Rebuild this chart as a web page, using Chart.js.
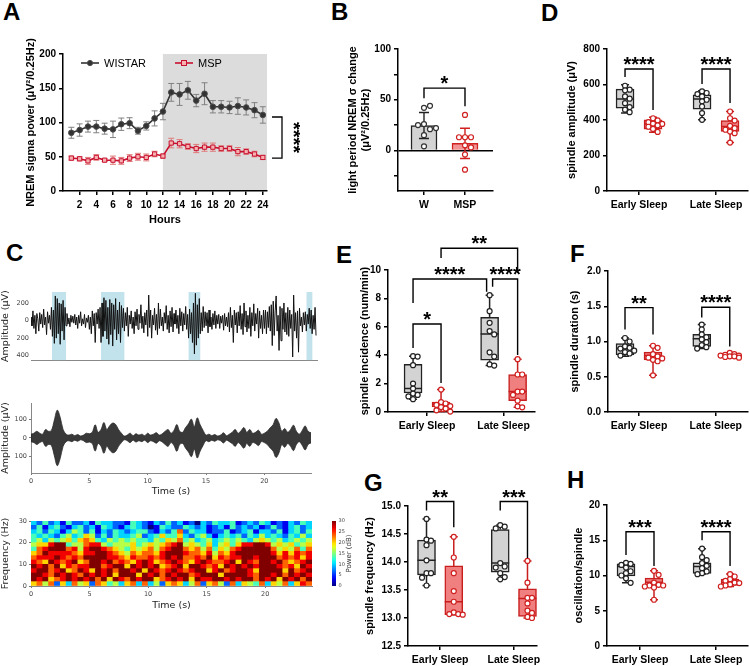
<!DOCTYPE html>
<html>
<head>
<meta charset="utf-8">
<script src="https://cdn.jsdelivr.net/npm/chart.js@4.4.0/dist/chart.umd.min.js"></script>
<style>
  body { margin: 0; background: #fff; }
  #fig { position: relative; width: 750px; height: 666px; overflow: hidden; background: #fff; }
  #fig canvas { position: absolute; }
  .lbl { position: absolute; font: bold 24px "Liberation Sans", Arial, sans-serif; line-height: 1; color: #000; }
</style>
</head>
<body>
<div id="fig">
  <div class="lbl" style="left:3px;top:0px">A</div>
  <div class="lbl" style="left:331px;top:0px">B</div>
  <div class="lbl" style="left:541px;top:1px">D</div>
  <div class="lbl" style="left:6px;top:241px">C</div>
  <div class="lbl" style="left:336px;top:243px">E</div>
  <div class="lbl" style="left:570px;top:242px">F</div>
  <div class="lbl" style="left:364px;top:471px">G</div>
  <div class="lbl" style="left:567px;top:468px">H</div>
</div>
<script>
// ---- A: hourly NREM sigma power ----
var hours = [1, 2, 3, 4, 5, 6, 7, 8, 9, 10, 11, 12, 13, 14, 15, 16, 17, 18, 19, 20, 21, 22, 23, 24];
var wistarMean = [85, 89, 94, 94, 91, 90, 97.5, 99, 88, 95, 106, 116, 144, 141, 147, 132, 142, 123, 123, 122, 124, 122, 118, 111];
var wistarSem = [8, 9, 8, 9, 8, 12, 9, 8, 5, 6, 11, 12, 13, 16, 13, 9, 16, 9, 9, 9, 12, 11, 11, 12];
var mspMean = [48, 47, 44, 49, 45, 45, 44, 48, 50, 49, 54, 51, 70, 69, 65, 62, 64, 64, 62, 62, 57.5, 57.5, 54, 49];
var mspSem = [3, 3, 5, 4, 2, 6, 5, 5, 5, 5, 4, 3, 7, 6, 4, 6, 6, 6, 4, 4, 6, 4, 4, 3];
var darkStart = 12;
var aBracket = [108, 48];

// ---- B: light period sigma change ----
var bGroups = ['W', 'MSP'];
var bMean = [24.6, 7.0];
var bSd = [12.8, 14.9];
var bPtsW = [42, 44, 26, 21, 25, 22, 15, 4];
var bPtsM = [35, 13, 13, 13, 5, 3, -4, -19];

// ---- C: example EEG (12 samples/s), spindle envelope (0.25 s), spectrogram ----
var rawFs = 12;
var rawTrace = [
  40, -60, 110, -90, 60, -150, 80, 20, -120, 90, -40, 70,
  -80, 130, -50, 40, -160, 100, -30, 60, -100, 150, -180, 120,
  -260, 280, -200, 250, -150, 200, -270, 190, -120, 230, -220, 150,
  -60, 80, -40, 30, -70, 60, -20, 50, -30, 70, -50, 40,
  -90, 60, -30, 100, -60, 20, -40, 70, -80, 30, -20, 60,
  -100, 40, -150, 110, -60, 80, -250, 90, -40, 130, -90, 150,
  -250, 200, -180, 260, -120, 230, -210, 150, -270, 240, -160, 200,
  -290, 180, -100, 250, -220, 120, -150, 210, -250, 170, -80, 140,
  -120, 90, -60, 150, -180, 60, -40, 110, -90, 40, -150, 100,
  -60, 130, -100, 70, -30, 180, -90, 50, -140, 90, -50, 120,
  -180, 290, -80, 120, -200, 60, -50, 140, -110, 70, -160, 200,
  -90, 130, -60, 40, -120, 90, -30, 170, -100, 60, -140, 110,
  -70, 150, -130, 80, -40, 120, -90, 60, -150, 140, -60, 100,
  -120, 80, -50, 160, -100, 70, -200, 130, -150, 90, -250, 200,
  -380, 310, -280, 180, -200, 250, -150, 90, -120, 160, -80, 100,
  -60, 90, -140, 120, -70, 40, -100, 80, -50, 110, -90, 60,
  -40, 70, -90, 50, -30, 60, -110, 80, -60, 40, -70, 90,
  -130, 150, -80, 60, -250, 120, -50, 90, -140, 100, -60, 170,
  -100, 80, -160, 200, -70, 110, -130, 60, -90, 150, -180, 90,
  -60, 190, -120, 80, -40, 140, -200, 110, -90, 60, -150, 120,
  -90, 120, -150, 100, -80, 160, -120, 180, -285, 220, -170, 110,
  280, -120, 60, -340, 160, -230, 140, -100, 200, -130, 90, -160,
  150, -180, 120, -90, 70, -415, 290, -120, 90, -200, 110, -360,
  140, -60, 40, -130, 90, -50, 100, -120, 70, -40, 140, -90,
  120, -150, 60, -100, 150, -170
];
var spindleBands = [[1.8, 3.0], [6.0, 8.0], [13.5, 14.5], [23.6, 24.1]];
var envStep = 0.25;
var spindleEnv = [
  20, 25, 35, 25, 20, 45, 35, 40, 95, 148, 110, 45,
  20, 15, 20, 12, 18, 10, 15, 25, 22, 30, 70, 30,
  45, 82, 45, 65, 79, 72, 45, 25, 10, 15, 25, 12,
  22, 15, 20, 12, 25, 15, 20, 28, 15, 22, 35, 45,
  25, 40, 71, 35, 30, 55, 75, 100, 60, 107, 70, 40,
  15, 20, 12, 18, 10, 15, 27, 12, 20, 30, 45, 25,
  38, 55, 30, 45, 25, 30, 41, 20, 25, 35, 54, 70,
  104, 80, 35, 50, 30, 45, 68, 35, 20, 40, 64, 35, 27
];
var specStep = 0.5;
var specBinHz = 2;
// power level 0-9 (0 = 0 dB, 9 = 30 dB), rows from 30 Hz down to 0 Hz
var specRows = [
  '32423142 23143322 14321324 23120324 33412324 31213243',
  '24134213 42314321 34320143 22432312 31423231 24213423',
  '34243135 42413243 23442132 47243312 24123413 32413424',
  '43432453 46524243 34523464 46324531 34342435 34324353',
  '45354564 67643545 45443546 57453453 45454356 54534545',
  '56689945 57885455 56456567 89565463 56468899 85656456',
  '47899978 58998765 46567578 99767574 65789999 97565747',
  '67988887 68899876 57677689 99877685 76899999 98686878',
  '78889878 79999887 68778789 89778796 87889989 99787868',
  '87698789 67998978 76898678 98768987 78969879 98976789',
  '98979687 88997899 69898967 89699878 69898989 99878698',
  '89978967 98698979 98969878 98789968 97899869 99969789',
  '99879898 79898969 99698979 89978999 69999879 98979898',
  '98967898 98979698 79899678 98969889 98989979 89698979',
  '67572637 56276453 67373526 76357267 52736547 36573687'
];
var cbTicks = [0, 5, 10, 15, 20, 25, 30];

// ---- D-H: spindle properties, box = [min, q1, median, q3, max] ----
var sleepLabels = ['Early Sleep', 'Late Sleep'];

var dBoxW = [[439, 467, 518, 574, 599], [401, 461, 518, 542, 565]];
var dBoxM = [[331, 348, 378, 401, 416], [273, 335, 363, 397, 448]];
var dPtsW = [[593, 571, 567, 533, 520, 495, 473, 458, 444], [561, 552, 546, 533, 514, 505, 476, 439, 401]];
var dPtsM = [[410, 398, 388, 380, 378, 370, 362, 350, 333], [448, 410, 397, 367, 354, 345, 335, 326, 273]];

var eBoxW = [[0.9, 1.34, 1.65, 3.36, 3.93], [3.27, 3.65, 5.5, 6.66, 8.23]];
var eBoxM = [[0.03, 0.35, 0.55, 0.7, 1.58], [0.33, 0.8, 1.44, 2.64, 3.72]];
var ePtsW = [[3.93, 3.9, 3.3, 2.0, 1.65, 1.3, 1.2, 1.1, 0.9], [8.23, 7.1, 6.28, 5.7, 5.46, 4.2, 3.9, 3.35, 3.27]];
var ePtsM = [[1.58, 0.7, 0.6, 0.5, 0.42, 0.35, 0.24, 0.12, 0.03], [3.72, 2.64, 2.64, 1.44, 1.44, 1.2, 0.8, 0.4, 0.33]];

var fBoxW = [[0.79, 0.81, 0.9, 0.97, 1.05], [0.9, 0.93, 1.04, 1.1, 1.24]];
var fBoxM = [[0.52, 0.74, 0.8, 0.85, 0.94], [0.77, 0.78, 0.8, 0.82, 0.84]];
var fPtsW = [[1.05, 1.0, 0.93, 0.91, 0.9, 0.87, 0.85, 0.83, 0.8], [1.24, 1.17, 1.1, 1.06, 1.03, 0.99, 0.95, 0.92, 0.9]];
var fPtsM = [[0.94, 0.91, 0.82, 0.79, 0.77, 0.76, 0.74, 0.72, 0.52], [0.84, 0.82, 0.81, 0.8, 0.8, 0.79, 0.79, 0.78, 0.77]];

var gBoxW = [[13.58, 13.77, 14.03, 14.39, 14.77], [13.69, 13.82, 13.98, 14.58, 14.66]];
var gBoxM = [[13.06, 13.06, 13.29, 13.93, 14.45], [13.0, 13.03, 13.35, 13.52, 14.02]];
var gPtsW = [[14.77, 14.4, 14.38, 14.3, 14.03, 13.8, 13.8, 13.72, 13.58], [14.66, 14.63, 14.6, 13.98, 13.92, 13.9, 13.8, 13.73, 13.69]];
var gPtsM = [[14.45, 14.08, 13.8, 13.48, 13.29, 13.1, 13.07, 13.07, 13.06], [14.02, 13.63, 13.36, 13.36, 13.26, 13.13, 13.09, 13.02, 13.0]];

var hBoxW = [[8.96, 9.95, 11.27, 11.65, 11.8], [10.2, 10.3, 11.27, 11.8, 13.8]];
var hBoxM = [[6.56, 8.44, 9.06, 9.62, 10.66], [8.44, 8.6, 9.0, 9.48, 10.2]];
var hPtsW = [[11.8, 11.65, 11.5, 11.13, 10.6, 10.33, 10.0, 9.6, 8.96], [13.82, 12.6, 12.17, 11.75, 11.37, 11.04, 10.57, 10.33, 10.19]];
var hPtsM = [[10.66, 10.1, 9.0, 8.68, 8.58, 8.58, 8.44, 8.3, 6.56], [10.19, 9.86, 9.48, 9.25, 9.0, 8.92, 8.73, 8.58, 8.44]];

// significance brackets: [from slot, to slot, top, left leg end, right leg end, text, nudge from px, nudge to px]
var bBrackets = [[0, 1, 61.4, 51.5, 43.6, '*']];
var dBrackets = [[0, 1, 687, 642, 456, '****'], [2, 3, 687, 603, 496, '****']];
var eBrackets = [[1, 3, 11.53, 10.85, 9.79, '**'], [0, 2, 9.37, 7.68, 8.47, '****', 0, -3], [2, 3, 9.37, 8.82, 4.01, '****', 3, 0], [0, 1, 6.2, 4.5, 2.04, '*']];
var fBrackets = [[0, 1, 1.48, 1.17, 1.1, '**'], [2, 3, 1.485, 1.34, 0.93, '****']];
var gBrackets = [[0, 1, 15.08, 14.92, 14.62, '**'], [2, 3, 15.08, 14.92, 14.07, '***']];
var hBrackets = [[0, 1, 16.2, 12.9, 11.36, '***'], [2, 3, 16.2, 15.0, 11.36, '****']];

// ---------------------------------------------------------------
var F = '"Liberation Sans", Arial, sans-serif';
var FC = '"DejaVu Sans", sans-serif';
Chart.defaults.font.family = F;

function addCanvas(plot, m) {
  var cl = Math.round(plot[0] - m[0]), ct = Math.round(plot[1] - m[1]);
  var cr = Math.round(plot[2] + m[2]), cb = Math.round(plot[3] + m[3]);
  var c = document.createElement('canvas');
  c.width = cr - cl; c.height = cb - ct;
  c.style.left = cl + 'px'; c.style.top = ct + 'px';
  document.getElementById('fig').appendChild(c);
  return {el: c, ml: plot[0] - cl, mt: plot[1] - ct, mr: cr - plot[2], mb: cb - plot[3]};
}

function baseOpts(k) {
  return {
    responsive: false, animation: false, devicePixelRatio: 1, events: [],
    layout: {autoPadding: false, padding: {left: 0, top: k.mt, right: k.mr, bottom: 0}},
    plugins: {legend: {display: false}, tooltip: {enabled: false}}
  };
}

function tickList(vals) {
  return function (s) { s.ticks = vals.map(function (v) { return {value: v}; }); };
}

function prismY(k, range, ticks, title, fmt) {
  return {
    type: 'linear', min: range[0], max: range[1],
    afterFit: function (s) { s.width = k.ml; },
    afterBuildTicks: tickList(ticks),
    ticks: {font: {size: 10, weight: 'bold'}, color: '#000', padding: 3,
      callback: fmt || function (v) { return String(v); }},
    grid: {drawOnChartArea: false, color: '#000', lineWidth: 1.5, tickLength: 4},
    border: {color: '#000', width: 1.5},
    title: {display: true, text: title, color: '#000', padding: 0,
      font: {size: 11, weight: 'bold', lineHeight: 1.2}}
  };
}

function prismX(k, range, ticks, fmt, size) {
  return {
    type: 'linear', min: range[0], max: range[1], offset: false,
    afterFit: function (s) { s.height = k.mb; },
    afterBuildTicks: tickList(ticks),
    ticks: {font: {size: size || 10.5, weight: 'bold'}, color: '#000', padding: 4,
      maxRotation: 0, autoSkip: false, callback: fmt},
    grid: {drawOnChartArea: false, color: '#000', lineWidth: 1.5, tickLength: 4, offset: false},
    border: {color: '#000', width: 1.5}
  };
}

function starText(ctx, text, x, y, rot) {
  ctx.save();
  ctx.font = 'bold 20px ' + F;
  ctx.fillStyle = '#000';
  ctx.textAlign = 'center';
  ctx.textBaseline = 'alphabetic';
  ctx.translate(x, y);
  if (rot) ctx.rotate(rot);
  ctx.fillText(text, 0, 0);
  ctx.restore();
}

function bracketPlugin(list, slotX) {
  return {
    id: 'brackets',
    afterDatasetsDraw: function (chart) {
      var xs = chart.scales.x, ys = chart.scales.y, ctx = chart.ctx;
      ctx.save();
      ctx.strokeStyle = '#000'; ctx.lineWidth = 1.4; ctx.lineJoin = 'miter';
      list.forEach(function (b) {
        var x1 = xs.getPixelForValue(slotX[b[0]]) + (b[6] || 0);
        var x2 = xs.getPixelForValue(slotX[b[1]]) + (b[7] || 0);
        var top = ys.getPixelForValue(b[2]);
        ctx.beginPath();
        ctx.moveTo(x1, ys.getPixelForValue(b[3]));
        ctx.lineTo(x1, top); ctx.lineTo(x2, top);
        ctx.lineTo(x2, ys.getPixelForValue(b[4]));
        ctx.stroke();
        starText(ctx, b[5], (x1 + x2) / 2, top + 2);
      });
      ctx.restore();
    }
  };
}

var whiskers = {
  id: 'whiskers',
  afterDatasetDraw: function (chart, args) {
    var ds = chart.data.datasets[args.index];
    if (!ds.stats) return;
    var xs = chart.scales.x, ys = chart.scales.y, ctx = chart.ctx;
    ctx.save();
    ctx.strokeStyle = ds.borderColor; ctx.lineWidth = 1.5;
    ds.stats.forEach(function (s, i) {
      var x = xs.getPixelForValue(ds.data[i].x);
      var yy = s.map(function (v) { return ys.getPixelForValue(v); });
      ctx.beginPath();
      ctx.moveTo(x, yy[3]); ctx.lineTo(x, yy[4]);
      ctx.moveTo(x - 4, yy[4]); ctx.lineTo(x + 4, yy[4]);
      ctx.moveTo(x, yy[1]); ctx.lineTo(x, yy[0]);
      ctx.moveTo(x - 4, yy[0]); ctx.lineTo(x + 4, yy[0]);
      ctx.moveTo(x - 9, yy[2]); ctx.lineTo(x + 9, yy[2]);
      ctx.stroke();
    });
    ctx.restore();
  }
};

// spread overlapping dots sideways (pixel offsets), d = minimum centre distance
function swarm(vals, ppy, d, maxStep) {
  var placed = [];
  return vals.map(function (v) {
    var yp = v * ppy, best = 0, bestGap = -1;
    for (var k = 0; k <= maxStep * 2; k++) {
      var dx = (k % 2 ? 1 : -1) * Math.ceil(k / 2) * d;
      var gap = placed.reduce(function (m, p) { return Math.min(m, Math.hypot(p[0] - dx, p[1] - yp)); }, 1e9);
      if (gap >= d) { best = dx; bestGap = gap; break; }
      if (gap > bestGap) { best = dx; bestGap = gap; }
    }
    placed.push([best, yp]);
    return best;
  });
}

function dots(data, line) {
  return {type: 'scatter', order: 0, data: data, pointRadius: 2.5, pointBorderWidth: 1.2,
    pointBackgroundColor: '#fff', pointBorderColor: line, clip: false};
}

// ---------------- A ----------------
(function () {
  var k = addCanvas([63, 54, 267, 191], [39, 24, 33, 36]);
  var opts = baseOpts(k);
  opts.scales = {
    x: prismX(k, [0, 24.5], [2, 4, 6, 8, 10, 12, 14, 16, 18, 20, 22, 24], function (v) { return String(v); }, 10),
    y: prismY(k, [0, 200], [0, 50, 100, 150, 200], 'NREM sigma power (μV²/0.25Hz)')
  };
  opts.scales.x.title = {display: true, text: 'Hours', color: '#000', padding: 0, font: {size: 11, weight: 'bold', lineHeight: 1.2}};
  var extras = {
    id: 'aExtras',
    beforeDraw: function (chart) {
      var a = chart.chartArea, ctx = chart.ctx;
      var x0 = chart.scales.x.getPixelForValue(darkStart);
      ctx.save(); ctx.fillStyle = '#dcdcdc';
      ctx.fillRect(x0, a.top, a.right - x0, a.bottom - a.top);
      ctx.restore();
    },
    beforeDatasetsDraw: function (chart) {
      var xs = chart.scales.x, ys = chart.scales.y, ctx = chart.ctx;
      ctx.save(); ctx.lineWidth = 1;
      chart.data.datasets.forEach(function (ds) {
        ctx.strokeStyle = ds.errColor;
        ds.data.forEach(function (p, i) {
          var px = xs.getPixelForValue(p.x);
          var hi = ys.getPixelForValue(p.y + ds.err[i]), lo = ys.getPixelForValue(p.y - ds.err[i]);
          ctx.beginPath();
          ctx.moveTo(px, hi); ctx.lineTo(px, lo);
          ctx.moveTo(px - 3, hi); ctx.lineTo(px + 3, hi);
          ctx.moveTo(px - 3, lo); ctx.lineTo(px + 3, lo);
          ctx.stroke();
        });
      });
      ctx.restore();
    },
    afterDraw: function (chart) {
      var a = chart.chartArea, ys = chart.scales.y, ctx = chart.ctx;
      var dsets = chart.data.datasets;
      ctx.save();
      var ly = a.top + 9;
      [[18, dsets[0]], [112, dsets[1]]].forEach(function (e) {
        var x = a.left + e[0], ds = e[1];
        ctx.strokeStyle = ds.borderColor; ctx.lineWidth = 1.6;
        ctx.beginPath(); ctx.moveTo(x, ly); ctx.lineTo(x + 18, ly); ctx.stroke();
        ctx.fillStyle = ds.pointBackgroundColor; ctx.strokeStyle = ds.pointBorderColor; ctx.lineWidth = 1;
        if (ds.pointStyle === 'rect') {
          ctx.fillRect(x + 6.5, ly - 2.5, 5, 5); ctx.strokeRect(x + 6.5, ly - 2.5, 5, 5);
        } else {
          ctx.beginPath(); ctx.arc(x + 9, ly, 2.6, 0, Math.PI * 2); ctx.fill(); ctx.stroke();
        }
        ctx.fillStyle = '#000'; ctx.font = '11px ' + F; ctx.textBaseline = 'middle';
        ctx.fillText(ds.label, x + 23, ly + 0.5);
      });
      var y1 = ys.getPixelForValue(aBracket[0]), y2 = ys.getPixelForValue(aBracket[1]);
      var bx = a.right + 15;
      ctx.strokeStyle = '#000'; ctx.lineWidth = 1.3;
      ctx.beginPath();
      ctx.moveTo(a.right + 5, y1); ctx.lineTo(bx, y1); ctx.lineTo(bx, y2); ctx.lineTo(a.right + 5, y2);
      ctx.stroke();
      ctx.restore();
      starText(ctx, '****', a.right + 20, (y1 + y2) / 2, Math.PI / 2);
    }
  };
  new Chart(k.el, {
    type: 'line',
    data: {datasets: [
      {label: 'WISTAR', data: hours.map(function (h, i) { return {x: h, y: wistarMean[i]}; }),
        err: wistarSem, errColor: '#808080', borderColor: '#333', borderWidth: 1.6,
        pointRadius: 2.8, pointBackgroundColor: '#333', pointBorderColor: '#4a4a4a', pointBorderWidth: 1},
      {label: 'MSP', data: hours.map(function (h, i) { return {x: h, y: mspMean[i]}; }),
        err: mspSem, errColor: '#e07878', borderColor: '#c8102e', borderWidth: 1.6, pointStyle: 'rect',
        pointRadius: 3, pointBackgroundColor: '#f6b0b0', pointBorderColor: '#c8102e', pointBorderWidth: 1}
    ]},
    options: opts,
    plugins: [extras]
  });
})();

// ---------------- B ----------------
(function () {
  var plot = [398, 49, 493, 191], xr = [0.366, 2.683], yr = [-40, 100];
  var k = addCanvas(plot, [52, 24, 7, 24]);
  var ppy = (plot[3] - plot[1]) / (yr[1] - yr[0]);
  var ppx = (plot[2] - plot[0]) / (xr[1] - xr[0]);
  var slotX = [1, 2];
  function pts(vals, x) {
    var dx = swarm(vals, ppy, 6, 2);
    return vals.map(function (v, j) { return {x: x + dx[j] / ppx, y: v}; });
  }
  var opts = baseOpts(k);
  opts.scales = {
    x: prismX(k, xr, [1, 2], function (v) { return bGroups[v - 1]; }),
    y: prismY(k, yr, [-25, 0, 25, 50, 75, 100], ['light period NREM σ change', '(μV²/0.25Hz)'],
      function (v) { return v % 50 === 0 && v >= 0 ? String(v) : ''; })
  };
  opts.scales.y.grid = {drawOnChartArea: true, lineWidth: 1.5, tickLength: 4, tickColor: '#000',
    color: function (c) { return c.tick && c.tick.value === 0 ? '#000' : 'rgba(0,0,0,0)'; }};
  var errBars = {
    id: 'errBars',
    afterDatasetDraw: function (chart, args) {
      var ds = chart.data.datasets[args.index];
      if (!ds.sd) return;
      var xs = chart.scales.x, ys = chart.scales.y, ctx = chart.ctx;
      ctx.save(); ctx.lineWidth = 1.4;
      ds.data.forEach(function (p, i) {
        var x = xs.getPixelForValue(p.x);
        var hi = ys.getPixelForValue(p.y + ds.sd[i]), lo = ys.getPixelForValue(p.y - ds.sd[i]);
        ctx.strokeStyle = ds.borderColor[i];
        ctx.beginPath();
        ctx.moveTo(x, hi); ctx.lineTo(x, lo);
        ctx.moveTo(x - 5, hi); ctx.lineTo(x + 5, hi);
        ctx.moveTo(x - 5, lo); ctx.lineTo(x + 5, lo);
        ctx.stroke();
      });
      ctx.restore();
    }
  };
  new Chart(k.el, {
    type: 'bar',
    data: {datasets: [
      dots(pts(bPtsW, 1), '#333'),
      dots(pts(bPtsM, 2), '#d02020'),
      {type: 'bar', order: 2, data: [{x: 1, y: bMean[0]}, {x: 2, y: bMean[1]}], sd: bSd,
        backgroundColor: ['#d3d3d3', '#f39494'], borderColor: ['#222', '#d02020'], borderWidth: 1.5,
        barThickness: 26, grouped: false}
    ]},
    options: opts,
    plugins: [errBars, bracketPlugin(bBrackets, slotX)]
  });
})();

// ---------------- D-H box panels ----------------
function boxPanel(p) {
  var k = addCanvas(p.plot, p.m);
  var ppx = (p.plot[2] - p.plot[0]) / (p.x[1] - p.x[0]);
  var ppy = (p.plot[3] - p.plot[1]) / (p.y[1] - p.y[0]);
  var off = 14 / ppx;
  var slotX = [1 - off, 1 + off, 2 - off, 2 + off];
  function pts(groups, side) {
    var out = [];
    groups.forEach(function (vals, ci) {
      var dx = swarm(vals, ppy, 4.6, 2);
      vals.forEach(function (v, j) { out.push({x: slotX[ci * 2 + side] + dx[j] / ppx, y: v}); });
    });
    return out;
  }
  function box(stats, side, fill, line) {
    return {type: 'bar', order: 2, stats: stats,
      data: stats.map(function (s, ci) { return {x: slotX[ci * 2 + side], y: [s[1], s[3]]}; }),
      backgroundColor: fill, borderColor: line, borderWidth: 1.5, borderSkipped: false,
      barThickness: 18, grouped: false, clip: false};
  }
  var opts = baseOpts(k);
  opts.scales = {
    x: prismX(k, p.x, [1, 2], function (v) { return sleepLabels[v - 1]; }),
    y: prismY(k, p.y, p.yTicks, p.title, p.fmt)
  };
  new Chart(k.el, {
    type: 'bar',
    data: {datasets: [
      dots(pts(p.ptsW, 0), '#222'),
      dots(pts(p.ptsM, 1), '#d01f1f'),
      box(p.boxW, 0, '#d3d3d3', '#222'),
      box(p.boxM, 1, '#f08080', '#c81e1e')
    ]},
    options: opts,
    plugins: [whiskers, bracketPlugin(p.brackets, slotX)]
  });
}

var oneDec = function (v) { return v.toFixed(1); };

boxPanel({plot: [607, 49, 748, 191], m: [42, 24, 2, 24], x: [0.584, 2.415], y: [0, 800],
  yTicks: [0, 200, 400, 600, 800], title: 'spindle amplitude (μV)',
  boxW: dBoxW, boxM: dBoxM, ptsW: dPtsW, ptsM: dPtsM, brackets: dBrackets});

boxPanel({plot: [388, 270, 535, 412], m: [30, 42, 5, 24], x: [0.49, 2.41], y: [0, 10],
  yTicks: [0, 2, 4, 6, 8, 10], title: 'spindle incidence (num/min)',
  boxW: eBoxW, boxM: eBoxM, ptsW: ePtsW, ptsM: ePtsM, brackets: eBrackets});

boxPanel({plot: [608, 271, 748, 412], m: [40, 31, 2, 24], x: [0.596, 2.42], y: [0, 2],
  yTicks: [0, 0.5, 1, 1.5, 2], title: 'spindle duration (s)', fmt: oneDec,
  boxW: fBoxW, boxM: fBoxM, ptsW: fPtsW, ptsM: fPtsM, brackets: fBrackets});

boxPanel({plot: [408, 506, 540, 646], m: [45, 28, 5, 20], x: [0.564, 2.308], y: [12.5, 15],
  yTicks: [12.5, 13, 13.5, 14, 14.5, 15], title: 'spindle frequency (Hz)', fmt: oneDec,
  boxW: gBoxW, boxM: gBoxM, ptsW: gPtsW, ptsM: gPtsM, brackets: gBrackets});

boxPanel({plot: [607, 505, 748, 646], m: [35, 27, 2, 20], x: [0.566, 2.42], y: [0, 20],
  yTicks: [0, 5, 10, 15, 20], title: 'oscillation/spindle',
  boxW: hBoxW, boxM: hBoxM, ptsW: hPtsW, ptsM: hPtsM, brackets: hBrackets});

// ---------------- C ----------------
function mplY(k, range, ticks, title, fmt, axisLine) {
  return {
    type: 'linear', min: range[0], max: range[1],
    afterFit: function (s) { s.width = k.ml; },
    afterBuildTicks: tickList(ticks),
    ticks: {font: {family: FC, size: 6.5}, color: '#444', padding: 2, callback: fmt},
    grid: {display: axisLine, drawOnChartArea: false, drawTicks: axisLine, tickLength: 2, color: '#777'},
    border: {display: axisLine, color: '#888', width: 1},
    title: {display: true, text: title, color: '#222', padding: 0, font: {family: FC, size: 9.5, lineHeight: 1.2}}
  };
}
function mplX(k, range, ticks, title) {
  var ax = {
    type: 'linear', min: range[0], max: range[1], offset: false,
    afterFit: function (s) { s.height = k.mb; },
    afterBuildTicks: tickList(ticks),
    ticks: {display: ticks.length > 0, font: {family: FC, size: 6.5}, color: '#444', padding: 2, maxRotation: 0, autoSkip: false},
    grid: {display: ticks.length > 0, drawOnChartArea: false, drawTicks: ticks.length > 0, tickLength: 2, color: '#777', offset: false},
    border: {color: '#888', width: 1}
  };
  if (title) ax.title = {display: true, text: title, color: '#222', padding: 0, font: {family: FC, size: 9.5, lineHeight: 1.2}};
  return ax;
}
var absLabel = function (v) { return String(Math.abs(v)); };

(function () {
  var k = addCanvas([31, 292, 317, 362], [31, 12, 5, 4]);
  var opts = baseOpts(k);
  opts.scales = {x: mplX(k, [0, 24.5], []), y: mplY(k, [-450, 325], [-400, -200, 0, 200], 'Amplitude (µV)', absLabel, false)};
  var bands = {
    id: 'bands',
    beforeDatasetsDraw: function (chart) {
      var a = chart.chartArea, xs = chart.scales.x, ctx = chart.ctx;
      ctx.save(); ctx.fillStyle = 'rgba(173,216,230,0.75)';
      spindleBands.forEach(function (b) {
        var x0 = xs.getPixelForValue(b[0]), x1 = xs.getPixelForValue(b[1]);
        ctx.fillRect(x0, a.top, x1 - x0, a.bottom - a.top);
      });
      ctx.restore();
    }
  };
  new Chart(k.el, {
    type: 'line',
    data: {datasets: [{data: rawTrace.map(function (v, i) { return {x: i / rawFs, y: v}; }),
      borderColor: '#111', borderWidth: 1, pointRadius: 0, tension: 0}]},
    options: opts,
    plugins: [bands]
  });
})();

(function () {
  var k = addCanvas([31, 403, 311, 473], [31, 8, 9, 24]);
  var opts = baseOpts(k);
  opts.scales = {x: mplX(k, [0, 24], [0, 5, 10, 15, 20], 'Time (s)'),
    y: mplY(k, [-187, 186], [-100, 0, 100], 'Amplitude (µV)', absLabel, true)};
  new Chart(k.el, {
    type: 'line',
    data: {datasets: [
      {data: spindleEnv.map(function (v, i) { return {x: i * envStep, y: v}; }), borderColor: '#2a2a2a',
        borderWidth: 0.8, pointRadius: 0, tension: 0.35, fill: false},
      {data: spindleEnv.map(function (v, i) { return {x: i * envStep, y: -v}; }), borderColor: '#2a2a2a',
        borderWidth: 0.8, pointRadius: 0, tension: 0.35, fill: '-1', backgroundColor: 'rgba(35,35,35,0.9)'}
    ]},
    options: opts
  });
})();

function jet(v) {
  function c(t) { return Math.round(255 * Math.max(0, Math.min(1, t))); }
  return 'rgb(' + c(1.5 - Math.abs(4 * v - 3)) + ',' + c(1.5 - Math.abs(4 * v - 2)) + ',' + c(1.5 - Math.abs(4 * v - 1)) + ')';
}

(function () {
  var k = addCanvas([31, 521, 312, 586], [31, 9, 44, 25]);
  var opts = baseOpts(k);
  opts.scales = {x: mplX(k, [0, 24], [0, 5, 10, 15, 20], 'Time (s)'),
    y: mplY(k, [0, 30], [0, 10, 20, 30], 'Frequency (Hz)', function (v) { return String(v); }, true)};
  opts.scales.x.stacked = true;
  opts.scales.y.stacked = true;
  var datasets = specRows.slice().reverse().map(function (row) {
    var cells = row.replace(/ /g, '').split('').map(Number);
    return {
      data: cells.map(function (d, i) { return {x: (i + 0.5) * specStep, y: specBinHz}; }),
      backgroundColor: cells.map(function (d) { return jet(d / 9); }),
      borderWidth: 0, barPercentage: 1, categoryPercentage: 1
    };
  });
  var colorbar = {
    id: 'colorbar',
    afterDraw: function (chart) {
      var ys = chart.scales.y, ctx = chart.ctx, a = chart.chartArea;
      var x0 = a.right + 20, top = ys.getPixelForValue(30), bot = ys.getPixelForValue(0);
      ctx.save();
      var g = ctx.createLinearGradient(0, bot, 0, top);
      for (var i = 0; i <= 20; i++) g.addColorStop(i / 20, jet(i / 20));
      ctx.fillStyle = g; ctx.fillRect(x0, top, 4, bot - top);
      ctx.fillStyle = '#444'; ctx.font = '5px ' + FC; ctx.textBaseline = 'middle';
      cbTicks.forEach(function (t) { ctx.fillText(String(t), x0 + 6.5, ys.getPixelForValue(t)); });
      ctx.font = '7px ' + FC; ctx.fillStyle = '#333'; ctx.textAlign = 'center';
      ctx.translate(x0 + 17, (top + bot) / 2); ctx.rotate(-Math.PI / 2);
      ctx.fillText('Power (dB)', 0, 0);
      ctx.restore();
    }
  };
  new Chart(k.el, {type: 'bar', data: {datasets: datasets}, options: opts, plugins: [colorbar]});
})();
</script>
</body>
</html>
